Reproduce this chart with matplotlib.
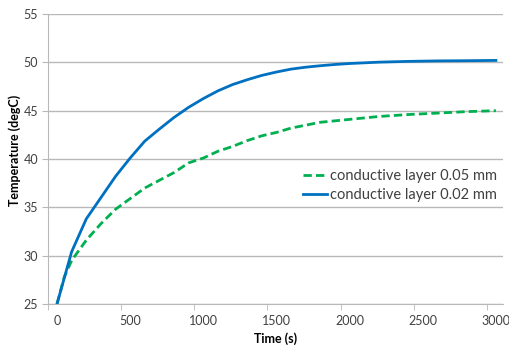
import matplotlib
matplotlib.use("Agg")
import matplotlib.pyplot as plt

# Data
time_thin = [0, 100, 200, 400, 500, 600, 700, 800, 900, 1000, 1100, 1200, 1300,
             1400, 1500, 1600, 1700, 1800, 1900, 2000, 2200, 2400, 2600, 2800, 3000]
temp_thin = [25.0, 30.4, 33.8, 38.2, 40.1, 41.85, 43.1, 44.3, 45.35, 46.25, 47.05, 47.7, 48.2,
             48.65, 49.0, 49.3, 49.5, 49.65, 49.78, 49.88, 50.02, 50.1, 50.15, 50.17, 50.2]

time_thick = [0, 50, 100, 200, 300, 400, 500, 600, 700, 800, 900, 1000, 1100,
              1200, 1300, 1400, 1500, 1600, 1800, 2000, 2200, 2400, 2600, 2800, 3000]
temp_thick = [25.0, 27.8, 29.5, 31.6, 33.3, 34.8, 35.9, 37.0, 37.8, 38.6, 39.6, 40.1, 40.8,
              41.3, 41.9, 42.4, 42.75, 43.2, 43.8, 44.1, 44.4, 44.6, 44.75, 44.9, 45.0]

x_ticks = [0, 500, 1000, 1500, 2000, 2500, 3000]
y_ticks = [25, 30, 35, 40, 45, 50, 55]

plt.rcParams['font.family'] = ['Lato', 'DejaVu Sans']

fig = plt.figure(figsize=(5.10, 3.47), dpi=100)
ax = fig.add_axes([0.0941, 0.1239, 0.892, 0.8357])

ax.plot(time_thick, temp_thick, color='#00b050', linewidth=2, linestyle=(0, (3, 1.5)),
        label='conductive layer 0.05 mm')
ax.plot(time_thin, temp_thin, color='#0070c0', linewidth=2,
        label='conductive layer 0.02 mm')

ax.set_xlim(-61.5, 3048)
ax.set_ylim(25, 55)
ax.set_yticks(y_ticks)
ax.grid(True, axis='y', color='#b8b8b8', linewidth=1)
ax.set_axisbelow(True)

# labels sit at the categories, tick marks sit between them (Excel style)
ax.set_xticks(x_ticks)
ax.set_xticks([t - 61.5 for t in x_ticks], minor=True)
ax.tick_params(axis='x', which='major', length=0, pad=8, labelsize=9, labelcolor='#404040')
ax.tick_params(axis='x', which='minor', length=4, color='#b8b8b8')
ax.tick_params(axis='y', length=4, color='#b8b8b8', labelsize=9, labelcolor='#404040', pad=3)

for side in ['top', 'right']:
    ax.spines[side].set_visible(False)
for side in ['left', 'bottom']:
    ax.spines[side].set_color('#b8b8b8')

ax.set_xlabel('Time (s)', fontsize=9, fontweight='bold', labelpad=4)
ax.set_ylabel('Temperature (degC)', fontsize=9, fontweight='bold')
ax.yaxis.set_label_coords(-0.059, 0.531)

ax.legend(loc='upper left', bbox_to_anchor=(0.547, 0.487), borderaxespad=0,
          frameon=False, fontsize=10.5, handlelength=1.7, handletextpad=0.15,
          labelspacing=0.4, labelcolor='#404040')

fig.savefig('out.png', dpi=100)
